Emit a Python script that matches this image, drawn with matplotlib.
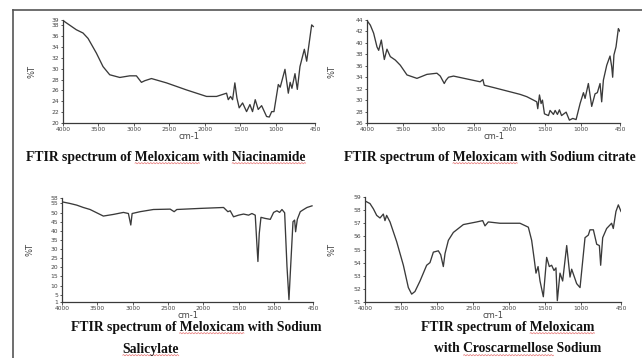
#!/usr/bin/env python3
"""
FTIR spectra of meloxicam blends, laid out as a 2x2 page figure.
"""

import numpy as np
import matplotlib
matplotlib.use('Agg')
import matplotlib.pyplot as plt
from matplotlib.lines import Line2D

# Wavenumber (cm-1) / %T readings for each blend
nia_wn = [4000, 3812, 3718, 3647, 3530, 3436, 3342, 3200, 3060, 2966, 2895, 2848,
          2754, 2542, 2260, 1978, 1837, 1696, 1672, 1640, 1611, 1579, 1550, 1518,
          1470, 1414, 1367, 1330, 1292, 1250, 1202, 1132, 1094, 1060, 1028, 967,
          940, 873, 826, 800, 775, 732, 699, 662, 600, 567, 497, 474]
nia_t = [38.9, 37.2, 36.6, 35.6, 32.9, 30.4, 28.9, 28.4, 28.7, 28.7, 27.5, 27.8,
         28.2, 27.4, 26.1, 24.9, 24.9, 25.5, 24.3, 24.9, 24.3, 27.4, 24.6, 22.8,
         23.7, 22.1, 23.4, 22.1, 24.3, 22.5, 23.2, 21.2, 21.1, 22.1, 22.1, 27.1,
         26.6, 29.9, 25.5, 27.5, 26.4, 29.1, 26.2, 30.4, 33.6, 31.4, 38.1, 37.8]

cit_wn = [4000, 3953, 3907, 3860, 3836, 3799, 3757, 3720, 3673, 3603, 3533, 3439,
          3299, 3159, 3019, 2972, 2916, 2890, 2856, 2786, 2412, 2374, 2355, 2225,
          1851, 1758, 1664, 1618, 1604, 1580, 1557, 1538, 1510, 1454, 1431, 1384,
          1360, 1328, 1300, 1270, 1206, 1160, 1113, 1066, 1010, 963, 940, 894,
          847, 800, 768, 730, 707, 683, 636, 590, 566, 553, 535, 506, 473, 450]
cit_t = [43.9, 43.1, 41.7, 39.3, 38.7, 40.5, 37.1, 38.9, 37.6, 37.0, 36.1, 34.4,
         33.8, 34.5, 34.7, 34.2, 32.9, 33.5, 34.0, 34.2, 33.2, 33.6, 32.6, 32.2,
         31.0, 30.6, 30.0, 29.7, 28.5, 30.9, 29.4, 30.0, 27.6, 27.3, 28.2, 27.5,
         28.2, 27.5, 28.3, 27.3, 27.9, 26.5, 26.8, 26.6, 29.4, 31.3, 30.3, 32.9,
         28.9, 31.1, 31.3, 32.9, 29.7, 33.5, 36.1, 37.7, 35.8, 34.0, 37.9, 39.3,
         42.5, 42.0]

sal_wn = [4000, 3887, 3792, 3698, 3603, 3462, 3415, 3273, 3131, 3061, 3027, 3008,
          2895, 2707, 2470, 2414, 2376, 2046, 1715, 1654, 1621, 1574, 1503, 1432,
          1361, 1314, 1267, 1243, 1229, 1210, 1186, 1125, 1054, 1007, 960, 922,
          889, 851, 818, 790, 771, 733, 710, 696, 672, 630, 582, 535, 464]
sal_t = [55.9, 55.0, 54.1, 52.8, 51.7, 49.0, 48.1, 49.0, 50.1, 49.5, 43.2, 49.5,
         50.5, 51.7, 51.9, 50.5, 51.7, 52.3, 52.8, 50.5, 51.0, 47.7, 48.6, 49.2,
         48.6, 49.5, 48.6, 32.3, 23.2, 38.6, 47.4, 46.8, 46.3, 50.1, 51.0, 50.1,
         51.7, 49.9, 20.5, 2.3, 16.8, 45.0, 45.9, 39.5, 46.3, 50.5, 51.7, 52.8, 53.7]

cro_wn = [4000, 3931, 3884, 3838, 3792, 3746, 3723, 3700, 3653, 3561, 3468, 3399,
          3353, 3307, 3237, 3145, 3099, 3052, 2983, 2950, 2914, 2890, 2844, 2775,
          2636, 2451, 2368, 2336, 2290, 2128, 1851, 1735, 1689, 1652, 1629, 1600,
          1573, 1527, 1481, 1444, 1412, 1379, 1352, 1333, 1296, 1259, 1203, 1157,
          1134, 1065, 1018, 949, 903, 880, 833, 787, 750, 732, 704, 649, 580, 557,
          520, 487, 450]
cro_t = [58.7, 58.5, 58.1, 57.6, 57.4, 57.7, 57.2, 57.6, 57.1, 55.6, 53.8, 52.1,
         51.6, 51.8, 52.6, 53.8, 54.0, 54.8, 54.9, 54.6, 53.7, 54.7, 55.7, 56.3,
         56.9, 57.1, 57.2, 56.8, 57.1, 57.0, 57.0, 56.7, 55.7, 54.2, 53.2, 53.7,
         52.6, 51.4, 54.4, 53.7, 53.8, 53.4, 53.6, 51.1, 53.2, 52.6, 55.3, 52.9,
         53.5, 52.4, 52.1, 55.9, 56.1, 56.5, 56.5, 55.4, 55.3, 53.8, 55.9, 56.6,
         57.0, 56.6, 57.9, 58.4, 57.9]

x_ticks = [4000, 3500, 3000, 2500, 2000, 1500, 1000, 450]
nia_yticks = [20, 22, 24, 26, 28, 30, 32, 34, 36, 38, 39]
cit_yticks = [26, 28, 30, 32, 34, 36, 38, 40, 42, 44]
sal_yticks = [1, 5, 10, 15, 20, 25, 30, 35, 40, 45, 50, 55, 58]
cro_yticks = [51, 52, 53, 54, 55, 56, 57, 58, 59]

W, H = 642, 358
fig = plt.figure(figsize=(W / 100, H / 100), dpi=100)
fig.patch.set_facecolor('white')

INK = '#3a3a3a'


def px_axes(left, top, right, bottom):
    """Axes placed by pixel edges on the page."""
    return fig.add_axes([left / W, 1 - bottom / H, (right - left) / W, (bottom - top) / H])


def spectrum(ax, wn, t, yticks, ylim, ylabel_x):
    ax.plot(wn, t, color=INK, linewidth=0.95)
    ax.set_xlim(4000, 450)
    ax.set_ylim(*ylim)
    ax.set_xticks(x_ticks)
    ax.set_yticks(yticks)
    for side in ('top', 'right'):
        ax.spines[side].set_visible(False)
    for side in ('left', 'bottom'):
        ax.spines[side].set_color(INK)
        ax.spines[side].set_linewidth(0.9)
    ax.tick_params(axis='both', labelsize=4.3, length=1.8, width=0.6, pad=0.8,
                   colors=INK, labelcolor='#444444')
    ax.set_xlabel('cm-1', fontsize=6, color='#444444', labelpad=0)
    ax.set_ylabel('%T', fontsize=6, color='#444444')
    ax.yaxis.set_label_coords(ylabel_x, 0.5)
    ax.patch.set_alpha(0)


ax1 = px_axes(63, 20, 315, 123)
spectrum(ax1, nia_wn, nia_t, nia_yticks, (20, 39), -0.105)
ax2 = px_axes(367, 20, 620, 123)
spectrum(ax2, cit_wn, cit_t, cit_yticks, (26, 44), -0.12)
ax3 = px_axes(62, 198, 313, 302)
spectrum(ax3, sal_wn, sal_t, sal_yticks, (1, 58), -0.11)
ax4 = px_axes(365, 197, 621, 302)
spectrum(ax4, cro_wn, cro_t, cro_yticks, (51, 59), -0.11)

# page border lines
fig.add_artist(Line2D([13 / W, 1], [1 - 10 / H, 1 - 10 / H], color='#555555', linewidth=1.2))
fig.add_artist(Line2D([13 / W, 13 / W], [1 - 10 / H, 0], color='#555555', linewidth=1.2))

cap_font = dict(family='Liberation Serif', weight='bold', size=9.8, color='#111111')

captions = [
    ('FTIR spectrum of Meloxicam with Niacinamide', 166, 157, ['Meloxicam', 'Niacinamide']),
    ('FTIR spectrum of Meloxicam with Sodium citrate', 490, 157, ['Meloxicam']),
    ('FTIR spectrum of Meloxicam with Sodium', 196, 327, ['Meloxicam']),
    ('Salicylate', 151, 349, ['Salicylate']),
    ('FTIR spectrum of Meloxicam', 508, 327, ['Meloxicam']),
    ('with Croscarmellose Sodium', 518, 349, ['Croscarmellose']),
]

renderer = fig.canvas.get_renderer()
for text, cx, cy, flagged in captions:
    t = fig.text(cx / W, 1 - cy / H, text, ha='center', va='center', **cap_font)
    bb = t.get_window_extent(renderer)
    fp = t.get_fontproperties()
    # red spell-check squiggle under flagged words
    for word in flagged:
        start = text.index(word)
        x0 = bb.x0 + renderer.get_text_width_height_descent(text[:start], fp, ismath=False)[0]
        x1 = x0 + renderer.get_text_width_height_descent(word, fp, ismath=False)[0]
        xs = np.arange(x0, x1, 0.5)
        ys = bb.y0 + 0.3 + 0.6 * np.sin((xs - x0) * np.pi / 1.5)
        fig.add_artist(Line2D(xs / W, ys / H, color='#e05050', linewidth=0.5, alpha=0.8))

fig.savefig('out.png', dpi=100)
